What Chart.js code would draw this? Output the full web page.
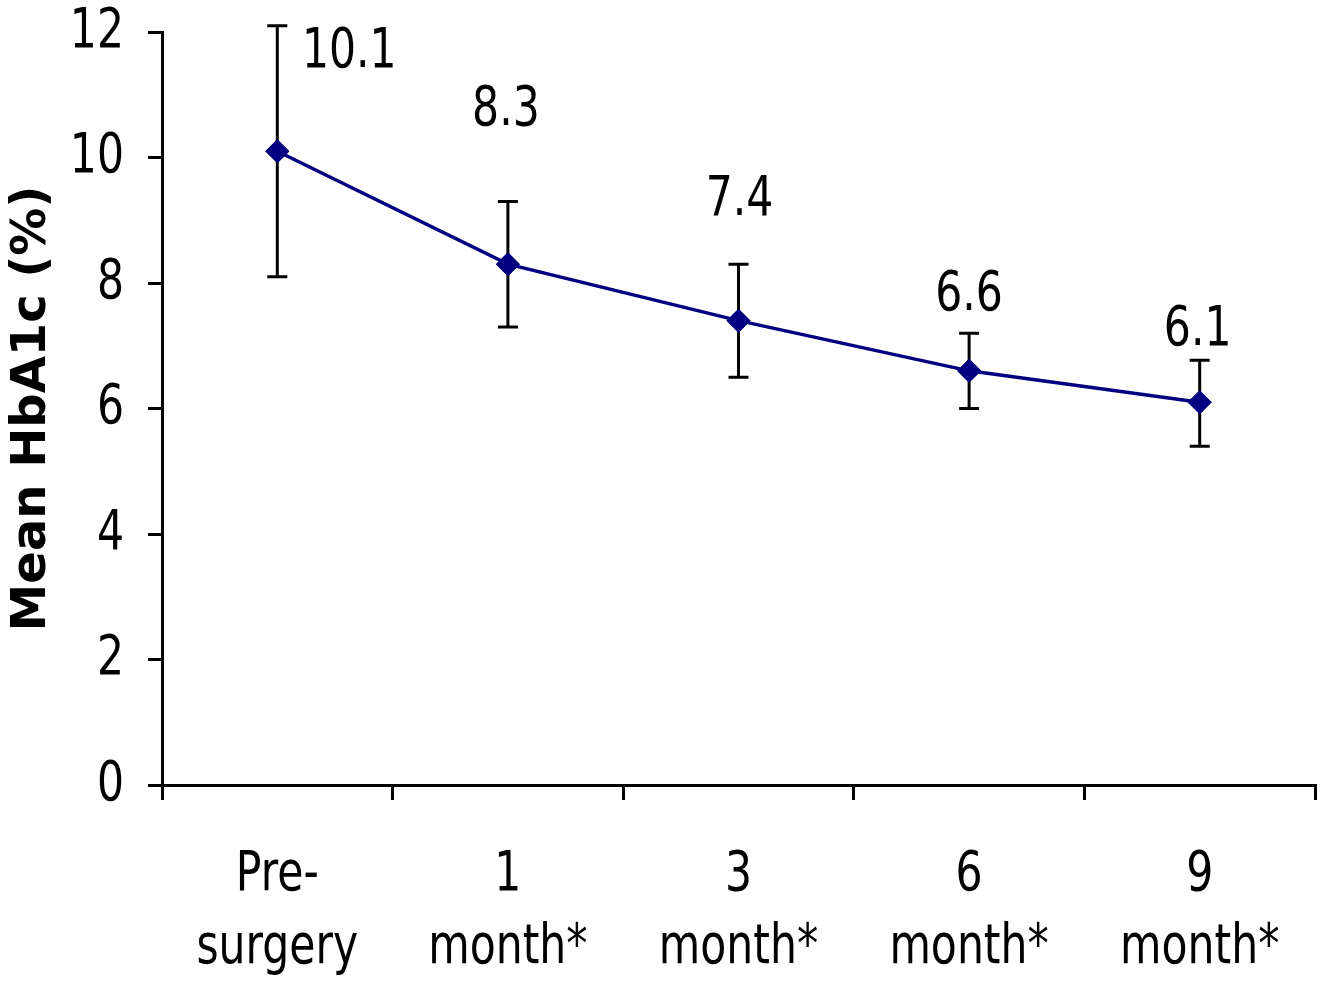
<!DOCTYPE html>
<html>
<head>
<meta charset="utf-8">
<script src="https://cdn.jsdelivr.net/npm/chart.js@4.4.0/dist/chart.umd.min.js"></script>
<style>
  html, body { margin: 0; padding: 0; background: #fff; }
  #wrap { width: 1328px; height: 981px; }
</style>
</head>
<body>
<div id="wrap"><canvas id="chart" width="1328" height="981"></canvas></div>
<script>
const categories = [["Pre-", "surgery"], ["1", "month*"], ["3", "month*"], ["6", "month*"], ["9", "month*"]];
const meanHbA1c = [10.1, 8.3, 7.4, 6.6, 6.1];
const errUpper = [2.0, 1.0, 0.9, 0.6, 0.67];
const errLower = [2.0, 1.0, 0.9, 0.6, 0.7];
const pointLabels = ["10.1", "8.3", "7.4", "6.6", "6.1"];
const yTicks = [0, 2, 4, 6, 8, 10, 12];

const textFont = '"DejaVu Sans", Verdana, sans-serif';

// the original uses a condensed face; squeeze regular text horizontally
const condensedText = {
  id: "condensedText",
  beforeInit(chart) {
    const ctx = chart.ctx;
    const orig = ctx.fillText.bind(ctx);
    ctx.fillText = function (t, x, y, maxW) {
      if (/bold/.test(this.font)) {
        return maxW === undefined ? orig(t, x, y) : orig(t, x, y, maxW);
      }
      this.save();
      this.translate(x, y);
      this.scale(0.76, 1);
      orig(t, 0, 0);
      this.restore();
    };
  }
};

// error bars + value labels, drawn through the chart's scales
const errorBars = {
  id: "errorBars",
  afterDatasetsDraw(chart, args, opts) {
    const { ctx, scales: { x, y } } = chart;
    ctx.save();
    ctx.strokeStyle = "#000";
    ctx.lineWidth = 3;
    meanHbA1c.forEach((v, i) => {
      const px = x.getPixelForValue(i);
      const top = y.getPixelForValue(v + errUpper[i]);
      const bot = y.getPixelForValue(v - errLower[i]);
      ctx.beginPath();
      ctx.moveTo(px, top); ctx.lineTo(px, bot);
      ctx.moveTo(px - 10, top); ctx.lineTo(px + 10, top);
      ctx.moveTo(px - 10, bot); ctx.lineTo(px + 10, bot);
      ctx.stroke();
    });
    // markers back on top of the bars
    chart.getDatasetMeta(0).data.forEach(p => p.draw(ctx));
    ctx.fillStyle = "#000";
    ctx.font = "56px " + textFont;
    ctx.textAlign = "center";
    ctx.textBaseline = "middle";
    meanHbA1c.forEach((v, i) => {
      const off = opts.offsets[i];
      ctx.fillText(pointLabels[i], x.getPixelForValue(i) + off[0], y.getPixelForValue(v) + off[1]);
    });
    ctx.restore();
  }
};

// keep the plot box where the original has it
function noEdgePadding(scale) {
  scale.paddingTop = 0;
  scale.paddingBottom = 0;
  scale.paddingLeft = 0;
  scale.paddingRight = 0;
}

new Chart(document.getElementById("chart"), {
  type: "line",
  data: {
    labels: categories,
    datasets: [{
      data: meanHbA1c,
      borderColor: "#000080",
      backgroundColor: "#000080",
      borderWidth: 3.5,
      pointStyle: "rectRot",
      pointRadius: 12,
      pointBorderWidth: 0,
      tension: 0
    }]
  },
  options: {
    responsive: false,
    animation: false,
    layout: { padding: { top: 32, right: 13, left: 0, bottom: 0 } },
    plugins: {
      legend: { display: false },
      tooltip: { enabled: false },
      errorBars: { offsets: [[72, -99], [-2, -154], [1, -120], [0, -75], [-2, -72]] }
    },
    scales: {
      x: {
        offset: true,
        grid: { offset: true, drawOnChartArea: false, tickLength: 15, lineWidth: 3, color: "#000" },
        border: { color: "#000", width: 3 },
        ticks: {
          color: "#000",
          font: { family: textFont, size: 56, lineHeight: 1.3 },
          padding: 39,
          maxRotation: 0,
          autoSkip: false
        },
        afterFit(scale) { scale.height = 196; noEdgePadding(scale); }
      },
      y: {
        min: 0,
        max: 12,
        afterBuildTicks(scale) { scale.ticks = yTicks.map(v => ({ value: v })); },
        grid: { drawOnChartArea: false, tickLength: 14, lineWidth: 3, color: "#000" },
        border: { color: "#000", width: 3 },
        ticks: {
          color: "#000",
          font: { family: textFont, size: 56 },
          padding: 24
        },
        title: {
          display: true,
          text: "Mean HbA1c (%)",
          color: "#000",
          font: { family: textFont, size: 48, weight: "bold", lineHeight: 1.2 },
          padding: { top: 4, bottom: 0 }
        },
        afterFit(scale) { scale.width = 162; noEdgePadding(scale); }
      }
    }
  },
  plugins: [condensedText, errorBars]
});
</script>
</body>
</html>
